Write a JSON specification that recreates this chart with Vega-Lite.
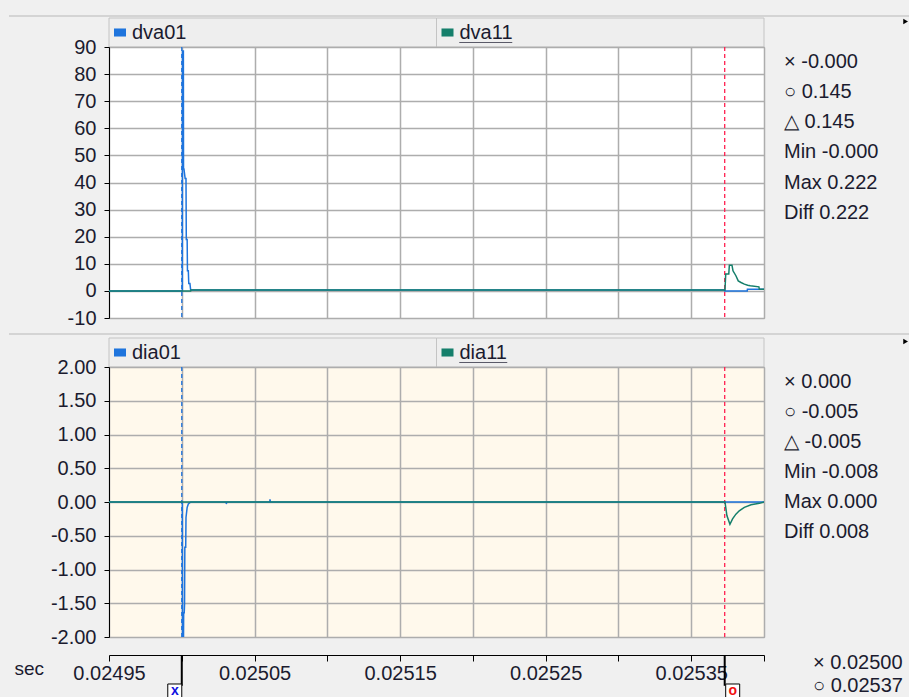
{
  "$schema": "https://vega.github.io/schema/vega-lite/v6.json",
  "background": "#F0F0F0",
  "padding": {"left": 8, "top": 15, "right": 0, "bottom": 0},
  "config": {
    "view": {"stroke": null},
    "font": "Liberation Sans",
    "axis": {"labelFont": "Liberation Sans", "labelFontSize": 20, "labelColor": "#1b1b2f", "domainColor": "#000", "tickColor": "#000", "gridColor": "#ADADAD", "gridWidth": 1.5}
  },
  "datasets": {
    "dva": [
      {"s": "dva01", "t": 0.02495, "v": 0},
      {"s": "dva01", "t": 0.0250004, "v": 0},
      {"s": "dva01", "t": 0.0250005, "v": 88.5},
      {"s": "dva01", "t": 0.0250011, "v": 88.5},
      {"s": "dva01", "t": 0.0250012, "v": 45},
      {"s": "dva01", "t": 0.0250015, "v": 45},
      {"s": "dva01", "t": 0.0250023, "v": 41.5},
      {"s": "dva01", "t": 0.0250029, "v": 41.5},
      {"s": "dva01", "t": 0.0250031, "v": 19},
      {"s": "dva01", "t": 0.0250037, "v": 19},
      {"s": "dva01", "t": 0.0250039, "v": 7.4},
      {"s": "dva01", "t": 0.0250045, "v": 7.4},
      {"s": "dva01", "t": 0.0250048, "v": 2.7},
      {"s": "dva01", "t": 0.0250056, "v": 2.7},
      {"s": "dva01", "t": 0.0250061, "v": 0.35},
      {"s": "dva01", "t": 0.025373, "v": 0.35},
      {"s": "dva01", "t": 0.0253731, "v": 0},
      {"s": "dva01", "t": 0.0253885, "v": 0},
      {"s": "dva01", "t": 0.0253886, "v": 0.6},
      {"s": "dva01", "t": 0.0254, "v": 0.6},
      {"s": "dva11", "t": 0.02495, "v": 0},
      {"s": "dva11", "t": 0.0250061, "v": 0},
      {"s": "dva11", "t": 0.0250063, "v": 0.35},
      {"s": "dva11", "t": 0.0253732, "v": 0.35},
      {"s": "dva11", "t": 0.0253737, "v": 6.2},
      {"s": "dva11", "t": 0.0253758, "v": 6.2},
      {"s": "dva11", "t": 0.0253762, "v": 9.5},
      {"s": "dva11", "t": 0.025378, "v": 9.5},
      {"s": "dva11", "t": 0.0253787, "v": 7.4},
      {"s": "dva11", "t": 0.0253807, "v": 5.6},
      {"s": "dva11", "t": 0.0253823, "v": 3.7},
      {"s": "dva11", "t": 0.0253842, "v": 3.1},
      {"s": "dva11", "t": 0.0253865, "v": 2.5},
      {"s": "dva11", "t": 0.0253888, "v": 2.1},
      {"s": "dva11", "t": 0.0253906, "v": 1.9},
      {"s": "dva11", "t": 0.0253965, "v": 1.5},
      {"s": "dva11", "t": 0.0253968, "v": 0.6},
      {"s": "dva11", "t": 0.0254, "v": 0.6}
    ],
    "dia": [
      {"s": "dia01", "t": 0.02495, "v": 0},
      {"s": "dia01", "t": 0.0250004, "v": 0},
      {"s": "dia01", "t": 0.0250005, "v": -2},
      {"s": "dia01", "t": 0.0250012, "v": -2},
      {"s": "dia01", "t": 0.0250013, "v": -1.64},
      {"s": "dia01", "t": 0.0250017, "v": -1.64},
      {"s": "dia01", "t": 0.0250019, "v": -1.52},
      {"s": "dia01", "t": 0.0250021, "v": -0.67},
      {"s": "dia01", "t": 0.0250027, "v": -0.67},
      {"s": "dia01", "t": 0.0250029, "v": -0.23},
      {"s": "dia01", "t": 0.0250037, "v": -0.08},
      {"s": "dia01", "t": 0.0250045, "v": -0.03},
      {"s": "dia01", "t": 0.0250062, "v": 0},
      {"s": "dia01", "t": 0.0250305, "v": 0},
      {"s": "dia01", "t": 0.0250306, "v": -0.03},
      {"s": "dia01", "t": 0.0250309, "v": 0},
      {"s": "dia01", "t": 0.0250605, "v": 0},
      {"s": "dia01", "t": 0.0250606, "v": 0.04},
      {"s": "dia01", "t": 0.0250609, "v": 0},
      {"s": "dia01", "t": 0.0254, "v": 0},
      {"s": "dia11", "t": 0.02495, "v": 0},
      {"s": "dia11", "t": 0.0253732, "v": 0},
      {"s": "dia11", "t": 0.0253745, "v": -0.2},
      {"s": "dia11", "t": 0.0253766, "v": -0.33},
      {"s": "dia11", "t": 0.0253784, "v": -0.25},
      {"s": "dia11", "t": 0.0253807, "v": -0.18},
      {"s": "dia11", "t": 0.025383, "v": -0.13},
      {"s": "dia11", "t": 0.0253865, "v": -0.08},
      {"s": "dia11", "t": 0.0253911, "v": -0.04},
      {"s": "dia11", "t": 0.0253968, "v": -0.02},
      {"s": "dia11", "t": 0.0254, "v": 0}
    ],
    "cursors": [
      {"c": "x", "t": 0.025},
      {"c": "o", "t": 0.025373}
    ]
  },
  "columns": 2,
  "spacing": 0,
  "bounds": "flush",
  "concat": [
    {
      "width": 655, "height": 2,
      "data": {"values": [{}]},
      "mark": {"type": "rule", "color": "#B8B8B8", "strokeWidth": 1},
      "encoding": {
        "x": {"datum": 0.0248813, "type": "quantitative", "scale": {"domain": [0.02495, 0.0254], "nice": false, "zero": false}, "axis": null},
        "x2": {"datum": 0.0254},
        "y": {"datum": 1, "type": "quantitative", "scale": {"domain": [0, 1]}, "axis": null}
      }
    },
    {
      "width": 146, "height": 2,
      "data": {"values": [{}]},
      "mark": {"type": "rule", "color": "#B8B8B8", "strokeWidth": 1},
      "encoding": {
        "x": {"datum": 0, "type": "quantitative", "scale": {"domain": [0, 1]}, "axis": null},
        "x2": {"datum": 1},
        "y": {"datum": 1, "type": "quantitative", "scale": {"domain": [0, 1]}, "axis": null}
      }
    },
    {
      "width": 655, "height": 29,
      "data": {"values": [{"name": "dva01"}, {"name": "dva11"}]},
      "encoding": {"x": {"field": "name", "type": "nominal", "scale": {"paddingInner": 0, "paddingOuter": 0}, "axis": null}},
      "layer": [
        {"mark": {"type": "rect", "fill": "#EEEEEE", "stroke": "#C4C4C4", "strokeWidth": 1}},
        {"mark": {"type": "point", "shape": "M-1,-0.67H1V0.67H-1Z", "size": 144, "filled": true, "opacity": 1, "xOffset": 11},
         "encoding": {"x": {"field": "name", "type": "nominal", "bandPosition": 0},
                      "color": {"field": "name", "type": "nominal", "scale": {"domain": ["dva01", "dva11"], "range": ["#1E74DD", "#157F6B"]}, "legend": null}}},
        {"mark": {"type": "text", "align": "left", "dx": 23, "fontSize": 20, "color": "#1b1b2f"},
         "encoding": {"x": {"field": "name", "type": "nominal", "bandPosition": 0}, "text": {"field": "name"}}},
        {"transform": [{"filter": "datum.name === 'dva11'"}],
         "mark": {"type": "tick", "orient": "horizontal", "size": 53, "thickness": 1.2, "color": "#1b1b2f", "xOffset": -114.5, "yOffset": 10},
         "encoding": {"x": {"field": "name", "type": "nominal"}}}
      ]
    },
    {
      "width": 146, "height": 29,
      "data": {"values": [{}]},
      "mark": {"type": "point", "shape": "triangle-right", "size": 30, "filled": true, "color": "#000", "opacity": 1},
      "encoding": {
        "x": {"datum": 0.97, "type": "quantitative", "scale": {"domain": [0, 1]}, "axis": null},
        "y": {"datum": 0.88, "type": "quantitative", "scale": {"domain": [0, 1]}, "axis": null}
      }
    },
    {
      "width": 655, "height": 271,
      "view": {"fill": "#FFFFFF", "stroke": "#A0A0A0"},
      "layer": [
        {"data": {"name": "cursors"},
         "mark": {"type": "rule", "strokeDash": [4, 3], "strokeWidth": 1.3},
         "encoding": {
           "x": {"field": "t", "type": "quantitative", "scale": {"domain": [0.02495, 0.0254], "nice": false, "zero": false},
                 "axis": {"values": [0.02495, 0.025, 0.02505, 0.0251, 0.02515, 0.0252, 0.02525, 0.0253, 0.02535, 0.0254], "grid": true, "labels": false, "ticks": false, "domain": false, "title": null}},
           "color": {"field": "c", "type": "nominal", "scale": {"domain": ["x", "o"], "range": ["#1E74DD", "#FF2050"]}, "legend": null}
         }},
        {"data": {"name": "dva"},
         "mark": {"type": "line", "strokeWidth": 1.5, "clip": true},
         "encoding": {
           "x": {"field": "t", "type": "quantitative"},
           "y": {"field": "v", "type": "quantitative", "scale": {"domain": [-10, 90], "nice": false, "zero": false},
                 "axis": {"values": [-10, 0, 10, 20, 30, 40, 50, 60, 70, 80, 90], "labelExpr": "datum.value + ''", "grid": true, "domain": true, "ticks": true, "tickSize": 5, "labelPadding": 8, "title": null}},
           "color": {"field": "s", "type": "nominal", "scale": {"domain": ["dva01", "dva11"], "range": ["#1E74DD", "#157F6B"]}, "legend": null}
         }}
      ],
      "resolve": {"scale": {"color": "independent"}}
    },
    {
      "width": 146, "height": 271,
      "data": {"values": [
        {"i": 0, "s": "× -0.000"}, {"i": 1, "s": "○ 0.145"}, {"i": 2, "s": "△ 0.145"},
        {"i": 3, "s": "Min -0.000"}, {"i": 4, "s": "Max 0.222"}, {"i": 5, "s": "Diff 0.222"}
      ]},
      "mark": {"type": "text", "align": "left", "baseline": "middle", "dx": 20, "fontSize": 20, "color": "#1b1b2f"},
      "encoding": {
        "x": {"datum": 0, "type": "quantitative", "scale": {"domain": [0, 1]}, "axis": null},
        "y": {"field": "i", "type": "quantitative", "scale": {"domain": [-0.5, 8.5], "reverse": true, "nice": false, "zero": false}, "axis": null},
        "text": {"field": "s"}
      }
    },
    {
      "width": 655, "height": 20,
      "data": {"values": [{}]},
      "mark": {"type": "rule", "color": "#B8B8B8", "strokeWidth": 1},
      "encoding": {
        "x": {"datum": 0.0248813, "type": "quantitative", "scale": {"domain": [0.02495, 0.0254], "nice": false, "zero": false}, "axis": null},
        "x2": {"datum": 0.0254},
        "y": {"datum": 0.2, "type": "quantitative", "scale": {"domain": [0, 1]}, "axis": null}
      }
    },
    {
      "width": 146, "height": 20,
      "data": {"values": [{}]},
      "mark": {"type": "rule", "color": "#B8B8B8", "strokeWidth": 1},
      "encoding": {
        "x": {"datum": 0, "type": "quantitative", "scale": {"domain": [0, 1]}, "axis": null},
        "x2": {"datum": 1},
        "y": {"datum": 0.2, "type": "quantitative", "scale": {"domain": [0, 1]}, "axis": null}
      }
    },
    {
      "width": 655, "height": 29,
      "data": {"values": [{"name": "dia01"}, {"name": "dia11"}]},
      "encoding": {"x": {"field": "name", "type": "nominal", "scale": {"paddingInner": 0, "paddingOuter": 0}, "axis": null}},
      "layer": [
        {"mark": {"type": "rect", "fill": "#EEEEEE", "stroke": "#C4C4C4", "strokeWidth": 1}},
        {"mark": {"type": "point", "shape": "M-1,-0.67H1V0.67H-1Z", "size": 144, "filled": true, "opacity": 1, "xOffset": 11},
         "encoding": {"x": {"field": "name", "type": "nominal", "bandPosition": 0},
                      "color": {"field": "name", "type": "nominal", "scale": {"domain": ["dia01", "dia11"], "range": ["#1E74DD", "#157F6B"]}, "legend": null}}},
        {"mark": {"type": "text", "align": "left", "dx": 23, "fontSize": 20, "color": "#1b1b2f"},
         "encoding": {"x": {"field": "name", "type": "nominal", "bandPosition": 0}, "text": {"field": "name"}}},
        {"transform": [{"filter": "datum.name === 'dia11'"}],
         "mark": {"type": "tick", "orient": "horizontal", "size": 48, "thickness": 1.2, "color": "#1b1b2f", "xOffset": -117, "yOffset": 10},
         "encoding": {"x": {"field": "name", "type": "nominal"}}}
      ]
    },
    {
      "width": 146, "height": 29,
      "data": {"values": [{}]},
      "mark": {"type": "point", "shape": "triangle-right", "size": 30, "filled": true, "color": "#000", "opacity": 1},
      "encoding": {
        "x": {"datum": 0.97, "type": "quantitative", "scale": {"domain": [0, 1]}, "axis": null},
        "y": {"datum": 0.88, "type": "quantitative", "scale": {"domain": [0, 1]}, "axis": null}
      }
    },
    {
      "width": 655, "height": 270,
      "view": {"fill": "#FFF9EC", "stroke": "#A0A0A0"},
      "layer": [
        {"data": {"name": "cursors"},
         "mark": {"type": "rule", "strokeDash": [4, 3], "strokeWidth": 1.3},
         "encoding": {
           "x": {"field": "t", "type": "quantitative", "scale": {"domain": [0.02495, 0.0254], "nice": false, "zero": false},
                 "axis": {"values": [0.02495, 0.025, 0.02505, 0.0251, 0.02515, 0.0252, 0.02525, 0.0253, 0.02535, 0.0254], "grid": true, "domain": true, "ticks": true, "tickSize": 6, "offset": 18, "labelPadding": 2, "labelFlush": false, "labelOverlap": false, "labelBound": false,
                          "labelExpr": "round(datum.value*100000) % 2 == 1 ? format(datum.value, '.5f') : ''",
                          "title": "sec", "titleX": -95, "titleY": 19, "titleAlign": "left", "titleAnchor": null, "titleBaseline": "alphabetic", "titleFont": "Liberation Sans", "titleFontSize": 19, "titleFontWeight": "normal", "titleColor": "#1b1b2f"}},
           "color": {"field": "c", "type": "nominal", "scale": {"domain": ["x", "o"], "range": ["#1E74DD", "#FF2050"]}, "legend": null}
         }},
        {"data": {"name": "dia"},
         "mark": {"type": "line", "strokeWidth": 1.5, "clip": true},
         "encoding": {
           "x": {"field": "t", "type": "quantitative"},
           "y": {"field": "v", "type": "quantitative", "scale": {"domain": [-2, 2], "nice": false, "zero": false},
                 "axis": {"values": [-2, -1.5, -1, -0.5, 0, 0.5, 1, 1.5, 2], "labelExpr": "replace(format(datum.value, '.2f'), '−', '-')", "grid": true, "domain": true, "ticks": true, "tickSize": 5, "labelPadding": 8, "title": null}},
           "color": {"field": "s", "type": "nominal", "scale": {"domain": ["dia01", "dia11"], "range": ["#1E74DD", "#157F6B"]}, "legend": null}
         }}
      ],
      "resolve": {"scale": {"color": "independent"}}
    },
    {
      "width": 146, "height": 270,
      "data": {"values": [
        {"i": 0, "s": "× 0.000"}, {"i": 1, "s": "○ -0.005"}, {"i": 2, "s": "△ -0.005"},
        {"i": 3, "s": "Min -0.008"}, {"i": 4, "s": "Max 0.000"}, {"i": 5, "s": "Diff 0.008"}
      ]},
      "mark": {"type": "text", "align": "left", "baseline": "middle", "dx": 20, "fontSize": 20, "color": "#1b1b2f"},
      "encoding": {
        "x": {"datum": 0, "type": "quantitative", "scale": {"domain": [0, 1]}, "axis": null},
        "y": {"field": "i", "type": "quantitative", "scale": {"domain": [-0.5, 8.5], "reverse": true, "nice": false, "zero": false}, "axis": null},
        "text": {"field": "s"}
      }
    },
    {
      "width": 655, "height": 61,
      "data": {"name": "cursors"},
      "encoding": {
        "x": {"field": "t", "type": "quantitative", "scale": {"domain": [0.02495, 0.0254], "nice": false, "zero": false}, "axis": null}
      },
      "layer": [
        {"mark": {"type": "rule", "color": "#000", "strokeWidth": 2},
         "encoding": {
           "y": {"datum": 0.3, "type": "quantitative", "scale": {"domain": [0, 1], "reverse": true}, "axis": null},
           "y2": {"datum": 0.8}
         }},
        {"transform": [{"filter": "datum.c === 'x'"}],
         "mark": {"type": "point", "shape": "square", "size": 196, "filled": true, "fill": "#FFFFFF", "stroke": "#000", "strokeWidth": 1, "opacity": 1, "xOffset": -7},
         "encoding": {"y": {"datum": 0.885, "type": "quantitative"}}},
        {"transform": [{"filter": "datum.c === 'o'"}],
         "mark": {"type": "point", "shape": "square", "size": 196, "filled": true, "fill": "#FFFFFF", "stroke": "#000", "strokeWidth": 1, "opacity": 1, "xOffset": 8},
         "encoding": {"y": {"datum": 0.885, "type": "quantitative"}}},
        {"transform": [{"filter": "datum.c === 'x'"}],
         "mark": {"type": "text", "fontSize": 14, "fontWeight": "bold", "color": "#1010E0", "dx": -7, "baseline": "middle"},
         "encoding": {"y": {"datum": 0.885, "type": "quantitative"}, "text": {"field": "c"}}},
        {"transform": [{"filter": "datum.c === 'o'"}],
         "mark": {"type": "text", "fontSize": 14, "fontWeight": "bold", "color": "#F01010", "dx": 8, "baseline": "middle"},
         "encoding": {"y": {"datum": 0.885, "type": "quantitative"}, "text": {"field": "c"}}}
      ]
    },
    {
      "width": 146, "height": 61,
      "data": {"values": [{"i": 0, "s": "× 0.02500"}, {"i": 1, "s": "○ 0.02537"}]},
      "mark": {"type": "text", "align": "left", "baseline": "middle", "dx": 49, "fontSize": 20, "color": "#1b1b2f"},
      "encoding": {
        "x": {"datum": 0, "type": "quantitative", "scale": {"domain": [0, 1]}, "axis": null},
        "y": {"field": "i", "type": "quantitative", "scale": {"domain": [-1.13, 1.52], "reverse": true, "nice": false, "zero": false}, "axis": null},
        "text": {"field": "s"}
      }
    }
  ]
}
